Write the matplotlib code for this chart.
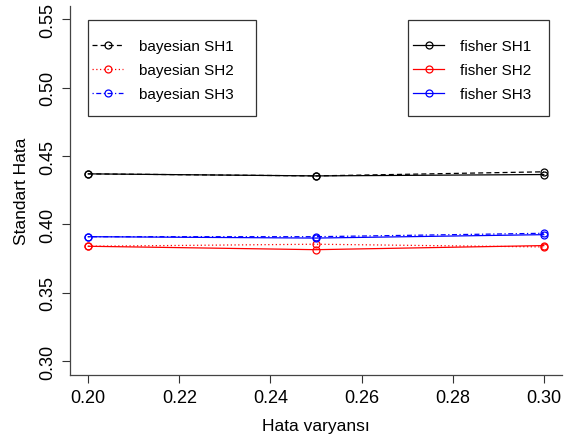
import matplotlib
matplotlib.use("Agg")
import matplotlib.pyplot as plt
from matplotlib.patches import Rectangle

plt.rcParams['font.family'] = ['Liberation Sans', 'DejaVu Sans']

# data
hata_var = [0.20, 0.25, 0.30]
bayes_sh1 = [0.437, 0.4355, 0.4385]
bayes_sh2 = [0.384, 0.3855, 0.3835]
bayes_sh3 = [0.391, 0.391, 0.3935]
fisher_sh1 = [0.437, 0.4355, 0.4365]
fisher_sh2 = [0.384, 0.3815, 0.3845]
fisher_sh3 = [0.391, 0.390, 0.3925]
xticks = [0.20, 0.22, 0.24, 0.26, 0.28, 0.30]
yticks = [0.30, 0.35, 0.40, 0.45, 0.50, 0.55]

W, H = 566, 439
fig = plt.figure(figsize=(W/100, H/100), dpi=100)
ax = fig.add_axes([70/W, 1-375.7/H, (562-70)/W, (375.7-6.8)/H])

mk = dict(marker='o', markerfacecolor='none', markersize=5, linewidth=0.9, markeredgewidth=0.9)
b1, = ax.plot(hata_var, bayes_sh1, color='black', linestyle=(0, (4, 2.5)), label='bayesian SH1', **mk)
b2, = ax.plot(hata_var, bayes_sh2, color='red', linestyle=(0, (1, 2)), label='bayesian SH2', **mk)
b3, = ax.plot(hata_var, bayes_sh3, color='blue', linestyle=(0, (1, 2, 4, 2)), label='bayesian SH3', **mk)
f1, = ax.plot(hata_var, fisher_sh1, color='black', linestyle='-', label='fisher SH1', **mk)
f2, = ax.plot(hata_var, fisher_sh2, color='red', linestyle='-', label='fisher SH2', **mk)
f3, = ax.plot(hata_var, fisher_sh3, color='blue', linestyle='-', label='fisher SH3', **mk)

ax.set_xlim(0.196, 0.304)
ax.set_ylim(0.29, 0.56)
ax.set_xticks(xticks)
ax.set_xticklabels(['%.2f' % v for v in xticks])
ax.set_yticks(yticks)
ax.set_yticklabels(['%.2f' % v for v in yticks], rotation=90, va='center')
ax.tick_params(direction='out', length=6, width=0.8, labelsize=13, pad=4, colors='#333333', labelcolor='black')
ax.spines['top'].set_visible(False)
ax.spines['right'].set_visible(False)
for s in ['left', 'bottom']:
    ax.spines[s].set_color('#444444')
    ax.spines[s].set_linewidth(0.9)
ax.set_xlabel('Hata varyansı', fontsize=12.5, labelpad=9)
ax.set_ylabel('Standart Hata', fontsize=12.5, labelpad=7)

leg_kw = dict(fontsize=11, frameon=False, handlelength=2.05, handletextpad=1.0,
              borderpad=0, labelspacing=0.65, borderaxespad=0,
              bbox_transform=fig.transFigure)
leg1 = ax.legend(handles=[b1, b2, b3], loc='upper left', bbox_to_anchor=(92/W, 1-40/H), **leg_kw)
ax.add_artist(leg1)
leg2 = ax.legend(handles=[f1, f2, f3], loc='upper left', bbox_to_anchor=(413/W, 1-40/H), **leg_kw)

# legend boxes
for x0, x1 in [(88, 256), (408, 549)]:
    fig.patches.append(Rectangle((x0/W, 1-117/H), (x1-x0)/W, 96/H, transform=fig.transFigure,
                                 fill=False, edgecolor='#333333', linewidth=0.9))

fig.savefig('out.png', dpi=100)
